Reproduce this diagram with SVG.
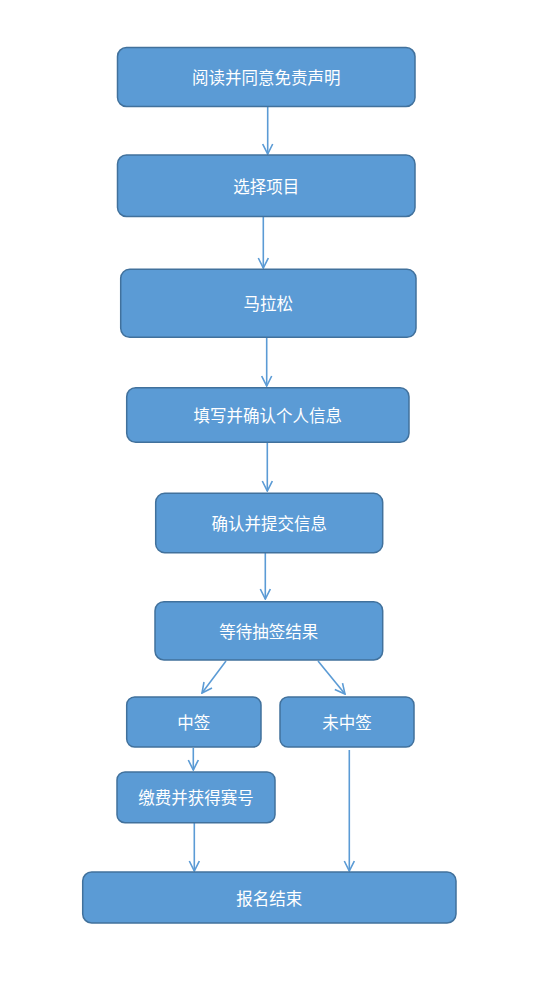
<svg xmlns="http://www.w3.org/2000/svg" width="541" height="994" viewBox="0 0 541 994">
<style>
.n rect{fill:#5B9BD5;stroke:#41719C;stroke-width:1.5}
.n text{fill:#fff;font-family:"Noto Sans CJK SC","Microsoft YaHei",sans-serif;font-size:16.5px;text-anchor:middle;dominant-baseline:central}
.c line{stroke:#5B9BD5;stroke-width:1.6;fill:none}
</style>
<defs>
<marker id="a" viewBox="0 0 12 12" refX="11" refY="6" markerWidth="12" markerHeight="12" markerUnits="userSpaceOnUse" orient="auto">
<path d="M1,1 L11,6 L1,11" fill="none" stroke="#5B9BD5" stroke-width="1.6"/>
</marker>
</defs>
<rect width="541" height="994" fill="#fff"/>
<g id="connectors" class="c">
<line x1="267.7" y1="107" x2="267.7" y2="154" marker-end="url(#a)"/>
<line x1="263.3" y1="217" x2="263.3" y2="268" marker-end="url(#a)"/>
<line x1="266.7" y1="338" x2="266.7" y2="386" marker-end="url(#a)"/>
<line x1="267.3" y1="443" x2="267.3" y2="491" marker-end="url(#a)"/>
<line x1="265.3" y1="553" x2="265.3" y2="599" marker-end="url(#a)"/>
<line x1="226" y1="661" x2="202" y2="693" marker-end="url(#a)"/>
<line x1="318" y1="661" x2="345" y2="694" marker-end="url(#a)"/>
<line x1="193.3" y1="748" x2="193.3" y2="770" marker-end="url(#a)"/>
<line x1="194.3" y1="823" x2="194.3" y2="871" marker-end="url(#a)"/>
<line x1="349.3" y1="750" x2="349.3" y2="871" marker-end="url(#a)"/>
</g>
<g id="n1" class="n"><rect x="117.5" y="47.5" width="297.5" height="59" rx="9"/><text x="266.2" y="77">阅读并同意免责声明</text></g>
<g id="n2" class="n"><rect x="117.5" y="155" width="297.5" height="61.5" rx="9"/><text x="266.2" y="185.7">选择项目</text></g>
<g id="n3" class="n"><rect x="120.7" y="269.3" width="295.3" height="68" rx="9"/><text x="268.3" y="303.3">马拉松</text></g>
<g id="n4" class="n"><rect x="126.7" y="387.7" width="282.3" height="54.6" rx="9"/><text x="267.8" y="415">填写并确认个人信息</text></g>
<g id="n5" class="n"><rect x="155.7" y="493.3" width="227" height="59.4" rx="9"/><text x="269.2" y="523">确认并提交信息</text></g>
<g id="n6" class="n"><rect x="155" y="601.7" width="227.7" height="58.3" rx="9"/><text x="268.8" y="630.8">等待抽签结果</text></g>
<g id="n7" class="n"><rect x="126.7" y="697" width="134.3" height="50" rx="8"/><text x="193.8" y="722">中签</text></g>
<g id="n8" class="n"><rect x="280" y="697" width="134" height="50" rx="8"/><text x="347" y="722">未中签</text></g>
<g id="n9" class="n"><rect x="117" y="772" width="158" height="50.7" rx="8"/><text x="196" y="797.3">缴费并获得赛号</text></g>
<g id="n10" class="n"><rect x="82.7" y="872" width="373.3" height="51" rx="9"/><text x="269.3" y="897.5">报名结束</text></g>
</svg>
